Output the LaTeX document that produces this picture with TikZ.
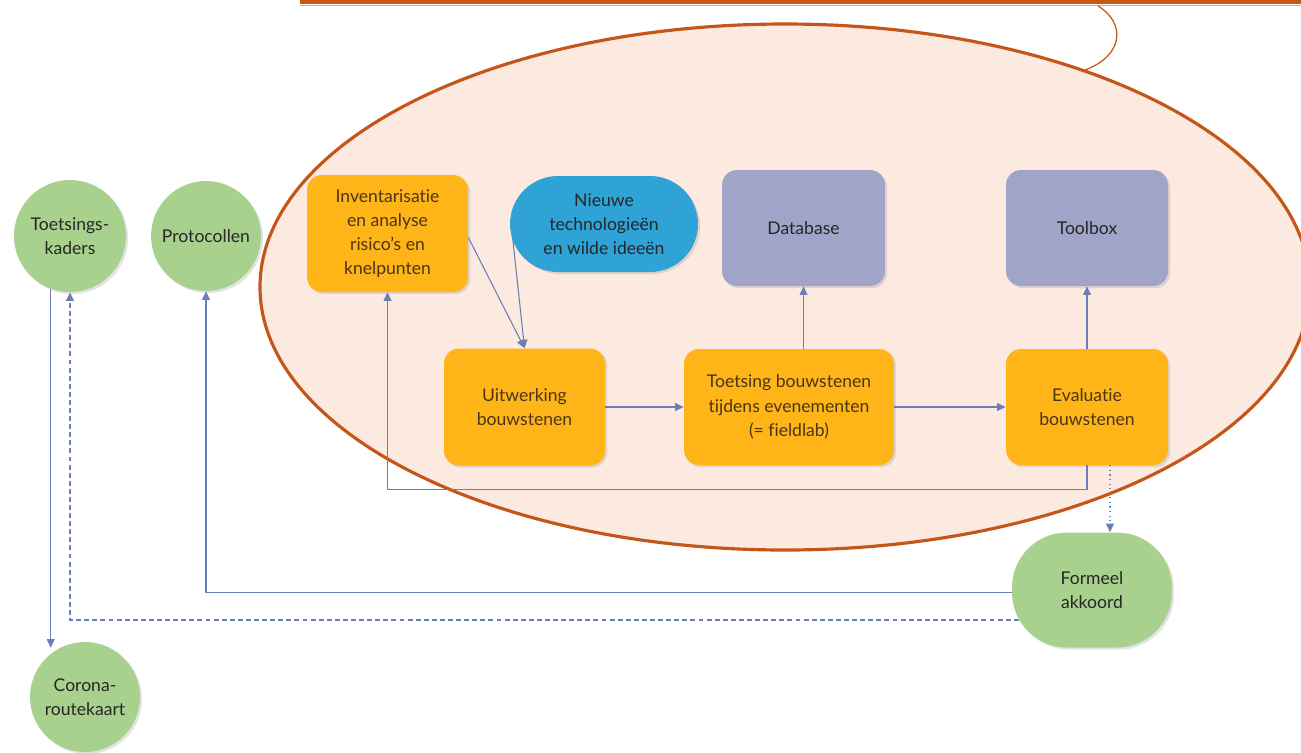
\documentclass[tikz,border=0pt]{standalone}
\usepackage{fontspec}
\setmainfont{Lato}[Ligatures=NoCommon]
\usetikzlibrary{arrows.meta,calc,shadows}
\definecolor{barorange}{HTML}{C55A11}
\definecolor{barlight}{HTML}{E9A27A}
\definecolor{ellfill}{HTML}{FCE9E0}
\definecolor{ellline}{HTML}{C4561A}
\definecolor{boxorange}{HTML}{FFB418}
\definecolor{boxblue}{HTML}{2FA2D6}
\definecolor{boxpurple}{HTML}{A0A4C9}
\definecolor{boxgreen}{HTML}{A8D18D}
\definecolor{connblue}{HTML}{6A7EB9}
\definecolor{browntext}{HTML}{4A3515}
\definecolor{darktext}{HTML}{262626}
\tikzset{
  basebox/.style={align=center, font=\fontsize{10}{13.8}\selectfont, inner sep=2pt,
    drop shadow={opacity=0.22, shadow xshift=1.2pt, shadow yshift=-1.2pt}},
  obox/.style={basebox, fill=boxorange, text=browntext, rounded corners=0.3cm},
  pbox/.style={basebox, fill=boxpurple, text=darktext, rounded corners=0.3cm},
  bbox/.style={basebox, fill=boxblue, text=darktext, rounded corners=0.96cm},
  gcirc/.style={basebox, circle, fill=boxgreen, text=darktext, inner sep=0pt},
  gbox/.style={basebox, fill=boxgreen, text=darktext, rounded corners=1.1cm},
  conn/.style={draw=connblue, line width=0.6pt, -{Triangle[length=4.8pt,width=4.4pt]}},
}
\begin{document}
\begin{tikzpicture}[x=0.02cm,y=-0.02cm]
\useasboundingbox (0,0) rectangle (1301,752);
\clip (0,0) rectangle (1301,752);
% top bar
\fill[barorange] (300,0) rectangle (1301,4);
\draw[barlight, line width=0.8pt] (300,5.2) -- (1301,5.2);
% big ellipse
\draw[fill=ellfill, draw=ellline, line width=1.8pt] (785,287) ellipse [x radius=525, y radius=263];
% callout curve
\draw[ellline, line width=0.7pt] (1098,6) .. controls (1125,22) and (1125,55) .. (1085,70);

% nodes
\node[gcirc, minimum size=2.24cm] (tk) at (70,236) {Toetsings-\\kaders};
\node[gcirc, minimum size=2.2cm] (prot) at (206,236) {Protocollen};
\node[gcirc, minimum size=2.2cm] (cor) at (85,697) {Corona-\\routekaart};
\node[obox, minimum width=3.22cm, minimum height=2.34cm] (inv) at (387.5,233.5)
  {Inventarisatie\\en analyse\\risico’s en\\knelpunten};
\node[bbox, minimum width=3.76cm, minimum height=1.92cm] (nieuw) at (604,224)
  {Nieuwe\\technologieën\\en wilde ideeën};
\node[pbox, minimum width=3.26cm, minimum height=2.32cm] (db) at (803.5,228) {Database};
\node[pbox, minimum width=3.24cm, minimum height=2.32cm] (tb) at (1087,228) {Toolbox};
\node[obox, minimum width=3.22cm, minimum height=2.34cm] (uit) at (524.5,407) {Uitwerking\\bouwstenen};
\node[obox, minimum width=4.2cm, minimum height=2.32cm] (toe) at (789,407)
  {Toetsing bouwstenen\\tijdens evenementen\\(= fieldlab)};
\node[obox, minimum width=3.24cm, minimum height=2.32cm] (eva) at (1087,407) {Evaluatie\\bouwstenen};
\node[gbox, minimum width=3.2cm, minimum height=2.3cm] (form) at (1092,590) {Formeel\\akkoord};

% connectors
\draw[conn] ($(inv.east)+(0,4)$) -- (uit.north);
\draw[conn] ($(nieuw.west)+(3,14)$) -- (uit.north);
\draw[conn] (uit.east) -- (toe.west);
\draw[conn] (toe.east) -- (eva.west);
\draw[conn] (db.south |- toe.north) -- (db.south);
\draw[conn] (eva.north) -- (tb.south);
\draw[conn] (eva.south) -- ++(0,24) -| (inv.south);
\coordinate (dtop) at ($(eva.south)+(23,0)$);
\draw[conn, dotted, line width=0.8pt] (dtop) -- (dtop |- form.north);
\draw[conn] ($(form.west)+(0,2.5)$) -| (prot.south);
\coordinate (fdash) at ($(form.west)+(7,30)$);
\draw[conn, dash pattern=on 2.8pt off 1.8pt] (fdash) -| (tk.south);
\draw[conn] (tk.-110) -- ($(tk.-110 |- cor.north)+(0,6)$);
\end{tikzpicture}
\end{document}
